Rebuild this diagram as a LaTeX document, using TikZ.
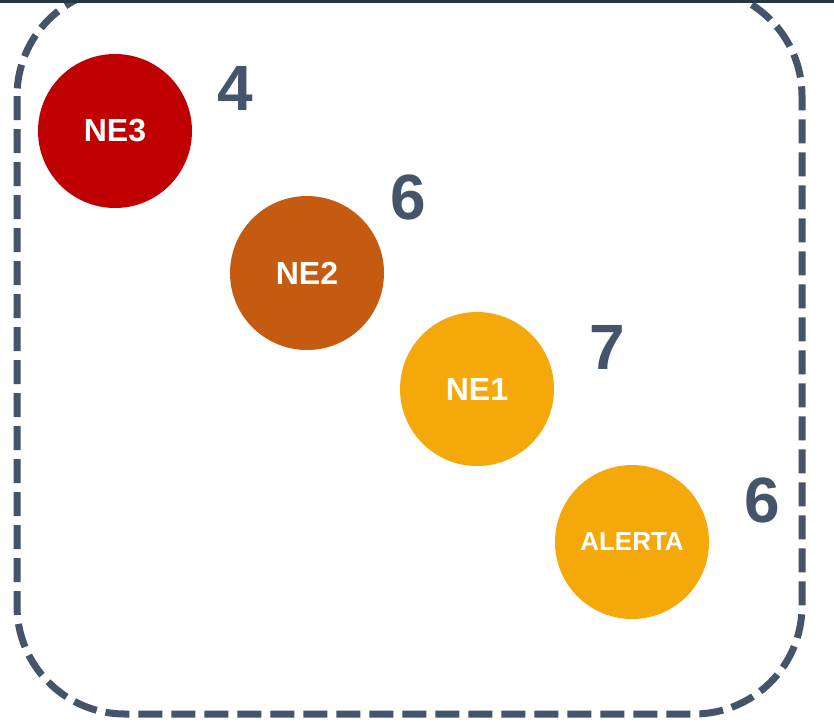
\documentclass[tikz,border=0pt]{standalone}
\usepackage{fontspec}
\setmainfont{Liberation Sans}
\usepackage{tikz}
\usetikzlibrary{positioning}
\definecolor{slate}{HTML}{44546A}
\definecolor{topbar}{HTML}{253746}
\definecolor{redNE}{HTML}{C00000}
\definecolor{rustNE}{HTML}{C55A11}
\definecolor{goldNE}{HTML}{F5A80A}
\tikzset{
  level/.style={
    inner sep = 0pt,
    shape = circle,
    minimum size = 154pt,
    text = white,
    font = \fontsize{32}{32}\selectfont\bfseries
  },
  score/.style={
    inner sep = 0pt,
    text = slate,
    font = \fontsize{64}{64}\selectfont\bfseries
  },
  frame/.style={
    draw = slate,
    line width = 7pt,
    dash pattern = on 24pt off 9pt,
    rounded corners = 108pt
  }
}

\begin{document}
\begin{tikzpicture}[x=1pt,y=-1pt]
    \useasboundingbox (0,0) rectangle (834,721);
    \clip (0,0) rectangle (834,721);
    \fill[white] (0,0) rectangle (834,721);

    \draw[frame] (17,-12) rectangle (802,714);

    \node[level, fill = redNE] (ne3) at (115,131) {NE3};
    \node[level, fill = rustNE] (ne2) at (307,273) {NE2};
    \node[level, fill = goldNE] (ne1) at (477,389) {NE1};
    \node[level, fill = goldNE, font = \fontsize{26}{26}\selectfont\bfseries] (alerta) at (632,542) {ALERTA};

    \node[score] (sne3) at (235,88) {4};
    \node[score] (sne2) at (408,197) {6};
    \node[score] (sne1) at (607,347) {7};
    \node[score] (salerta) at (762,500) {6};

    \fill[topbar] (0,0) rectangle (834,3);
\end{tikzpicture}
\end{document}
